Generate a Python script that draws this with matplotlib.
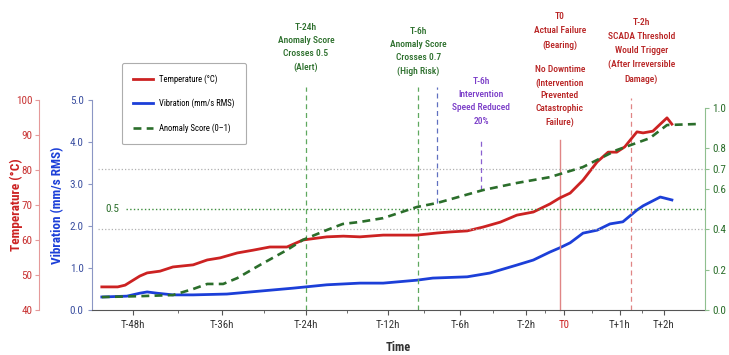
import numpy as np
import matplotlib.pyplot as plt
from matplotlib import font_manager
from matplotlib.lines import Line2D
import matplotlib.transforms as mtransforms

# the reference uses a narrow face; take whichever condensed family exists
fonts = font_manager.fontManager.ttflist
names = {f.name for f in fonts}
narrow = None
for cand in ['Liberation Sans Narrow', 'Roboto Condensed', 'Open Sans Condensed',
             'DejaVu Sans Condensed', 'Noto Sans Condensed']:
    if cand in names:
        narrow = cand
        break
if narrow is None:
    for f in fonts:
        if f.stretch in ('condensed', 'semi-condensed', 'extra-condensed', 600, 500) or 'Condensed' in f.fname:
            narrow = f.name
            plt.rcParams['font.stretch'] = 'condensed'
            break
if narrow is None:
    narrow = 'DejaVu Sans'
plt.rcParams['font.family'] = [narrow, 'DejaVu Sans']

# chart position units (0-100) along a non-uniform time axis
tick_pos = [6.7, 21.2, 34.9, 48.3, 60.0, 70.8, 77.0, 86.1, 93.3]
tick_labels = ['T-48h', 'T-36h', 'T-24h', 'T-12h', 'T-6h', 'T-2h', 'T0', 'T+1h', 'T+2h']

temp_pos = [1.6, 4.2, 5.4, 7.8, 9.0, 11.1, 13.2, 16.5, 18.8, 20.9, 23.7, 26.3, 29.0, 31.8,
            34.4, 38.3, 41.0, 43.7, 47.5, 53.0, 56.3, 58.4, 61.2, 63.8, 66.6, 69.3, 72.0,
            74.7, 76.3, 78.0, 80.1, 82.4, 84.2, 85.6, 86.9, 88.9, 89.9, 91.5, 92.7, 93.8, 94.6]
temp_val = [46.6, 46.6, 47.1, 49.7, 50.6, 51.1, 52.3, 52.9, 54.3, 54.9, 56.3, 57.1, 58.0, 58.0,
            60.0, 60.9, 61.1, 60.9, 61.4, 61.4, 62.0, 62.3, 62.6, 63.7, 65.1, 67.1, 68.0,
            70.3, 72.0, 73.4, 77.1, 82.3, 85.1, 85.1, 86.6, 90.9, 90.6, 91.1, 93.1, 94.9, 93.1]

vib_pos = [1.6, 5.7, 7.8, 9.0, 10.6, 13.2, 16.5, 22.0, 27.4, 32.8, 38.3, 43.7, 47.5, 53.0, 55.6,
           61.2, 64.9, 69.3, 72.0, 74.7, 76.3, 78.0, 80.1, 82.4, 84.5, 86.6, 88.9, 89.9, 92.7, 94.6]
vib_val = [0.31, 0.33, 0.40, 0.43, 0.40, 0.36, 0.36, 0.38, 0.45, 0.52, 0.60, 0.64, 0.64, 0.71, 0.76,
           0.79, 0.88, 1.07, 1.19, 1.38, 1.48, 1.60, 1.83, 1.90, 2.05, 2.10, 2.38, 2.48, 2.69, 2.62]

anom_pos = [1.6, 8.3, 13.2, 16.5, 18.8, 21.4, 23.7, 27.4, 31.8, 34.4, 38.3, 40.9, 43.7, 47.5,
            53.0, 56.3, 63.8, 69.3, 74.7, 80.1, 85.6, 91.0, 93.8, 98.7]
anom_val = [0.064, 0.069, 0.074, 0.104, 0.129, 0.129, 0.158, 0.223, 0.297, 0.347, 0.396, 0.426,
            0.436, 0.455, 0.510, 0.530, 0.594, 0.629, 0.658, 0.708, 0.792, 0.851, 0.916, 0.921]

thresholds = [0.7, 0.5, 0.4]

RED = '#cc2222'
BLUE = '#1c3fd8'
GREEN = '#2b6e2b'
PURPLE = '#7a3cc8'

fig = plt.figure(figsize=(7.29, 3.55), dpi=100)
ax = fig.add_axes([92 / 729, 1 - 310 / 355, 613 / 729, 210 / 355])
ax_t = ax.twinx()
ax_a = ax.twinx()

# temperature axis on the far left
ax_t.yaxis.set_ticks_position('left')
ax_t.yaxis.set_label_position('left')
ax_t.spines['left'].set_position(('outward', 38))
ax_t.spines['left'].set_color('#e59a9a')
for s in ['right', 'top', 'bottom']:
    ax_t.spines[s].set_visible(False)
ax_t.set_ylim(40, 100)
ax_t.set_yticks(range(40, 101, 10))
ax_t.tick_params(axis='y', colors='#e59a9a', labelcolor='#c83434', labelsize=8, length=3, pad=2)
ax_t.set_ylabel('Temperature (°C)', color=RED, fontsize=9.5, fontweight='bold')
ax_t.yaxis.set_label_coords(-0.113, 0.5)

# vibration axis
ax.set_ylim(0, 5)
ax.set_yticks(np.arange(0, 5.1, 1.0))
ax.set_yticklabels([f'{v:.1f}' for v in np.arange(0, 5.1, 1.0)])
ax.tick_params(axis='y', colors='#8b96c4', labelcolor='#3b4fa0', labelsize=8, length=3, pad=3)
ax.spines['left'].set_color('#8b96c4')
ax.spines['top'].set_visible(False)
ax.spines['right'].set_visible(False)
ax.spines['bottom'].set_color('#555555')
ax.set_ylabel('Vibration (mm/s RMS)', color=BLUE, fontsize=9.5, fontweight='bold')
ax.yaxis.set_label_coords(-0.045, 0.5)

# anomaly axis on the right
ax_a.set_ylim(0, 1.04)
ax_a.set_yticks([0.0, 0.2, 0.4, 0.6, 0.7, 0.8, 1.0])
ax_a.set_yticklabels(['0.0', '0.2', '0.4', '0.6', '0.7', '0.8', '1.0'])
ax_a.spines['right'].set_color('#8fbf8f')
ax_a.spines['right'].set_bounds(0, 1)
for s in ['left', 'top', 'bottom']:
    ax_a.spines[s].set_visible(False)
ax_a.tick_params(axis='y', colors='#8fbf8f', labelcolor=GREEN, labelsize=8, length=3, pad=2)

# x axis
ax.set_xlim(0, 100)
ax.set_xticks(tick_pos)
ax.set_xticklabels(tick_labels)
mids = [(a + b) / 2 for a, b in zip(tick_pos[:-1], tick_pos[1:])]
ax.set_xticks(mids, minor=True)
ax.tick_params(axis='x', which='both', colors='#555555', labelcolor='#333333', labelsize=7.8)
ax.tick_params(axis='x', which='minor', length=2)
ax.get_xticklabels()[6].set_color(RED)
ax.set_xlabel('Time', fontsize=9, fontweight='bold', color='#333333', labelpad=8)

# threshold lines
ax_a.axhline(thresholds[0], color='#b0b0b0', ls=':', lw=0.9, xmin=0.01)
ax_a.axhline(thresholds[1], color='#3e8e3e', ls=':', lw=1.0, xmin=0.055)
ax_a.axhline(thresholds[2], color='#b0b0b0', ls=':', lw=0.9, xmin=0.01)
ax_a.text(2.2, thresholds[1], '0.5', color=GREEN, fontsize=8, va='center')

# series
lt, = ax_t.plot(temp_pos, temp_val, color=RED, lw=2.0)
lv, = ax.plot(vib_pos, vib_val, color=BLUE, lw=2.0)
la, = ax_a.plot(anom_pos, anom_val, color=GREEN, lw=1.9, ls=(0, (3, 2)))

# event markers
tr = mtransforms.blended_transform_factory(ax.transData, ax.transAxes)
ax.plot([34.9, 34.9], [0, 1.06], transform=tr, color='#5fa85f', ls=(0, (4, 3)), lw=0.9, clip_on=False)
ax.plot([53.2, 53.2], [0, 1.06], transform=tr, color='#5fa85f', ls=(0, (4, 3)), lw=0.9, clip_on=False)
ax.plot([56.3, 56.3], [0.51, 1.06], transform=tr, color='#6070c0', ls=(0, (4, 3)), lw=0.9, clip_on=False)
ax.plot([63.5, 63.5], [0.57, 0.81], transform=tr, color='#8a60d0', ls=(0, (4, 3)), lw=0.9, clip_on=False)
ax.plot([76.3, 76.3], [0, 0.81], transform=tr, color='#e08585', lw=1.0, clip_on=False)
ax.plot([87.9, 87.9], [0, 1.01], transform=tr, color='#e08585', ls=(0, (4, 3)), lw=0.9, clip_on=False)

def note(x, ytop, s, color, spacing):
    ax.text(x, (310 - ytop) / 210, s, transform=tr, ha='center', va='top', color=color,
            fontsize=6.8, fontweight='medium', linespacing=spacing)

note(34.9, 23, 'T-24h\nAnomaly Score\nCrosses 0.5\n(Alert)', GREEN, 1.6)
note(53.2, 27, 'T-6h\nAnomaly Score\nCrosses 0.7\n(High Risk)', GREEN, 1.6)
note(63.5, 77, 'T-6h\nIntervention\nSpeed Reduced\n20%', PURPLE, 1.6)
note(76.3, 12, 'T0\nActual Failure\n(Bearing)', '#b82222', 1.7)
note(76.3, 65, 'No Downtime\n(Intervention\nPrevented\nCatastrophic\nFailure)', '#b82222', 1.55)
note(89.6, 18, 'T-2h\nSCADA Threshold\nWould Trigger\n(After Irreversible\nDamage)', '#b82222', 1.7)

handles = [Line2D([], [], color=RED, lw=2.0),
           Line2D([], [], color=BLUE, lw=2.0),
           Line2D([], [], color=GREEN, lw=1.9, ls=(0, (3, 2)))]
leg = fig.legend(handles, ['Temperature (°C)', 'Vibration (mm/s RMS)', 'Anomaly Score (0–1)'],
                 loc='upper left', bbox_to_anchor=(122 / 729, 1 - 63 / 355), fontsize=6.2,
                 frameon=True, fancybox=True, edgecolor='#999999', labelspacing=1.75,
                 borderpad=1.3, handlelength=2.3, handletextpad=0.7, borderaxespad=0)
leg.get_frame().set_linewidth(0.8)

fig.savefig('out.png', dpi=100)
